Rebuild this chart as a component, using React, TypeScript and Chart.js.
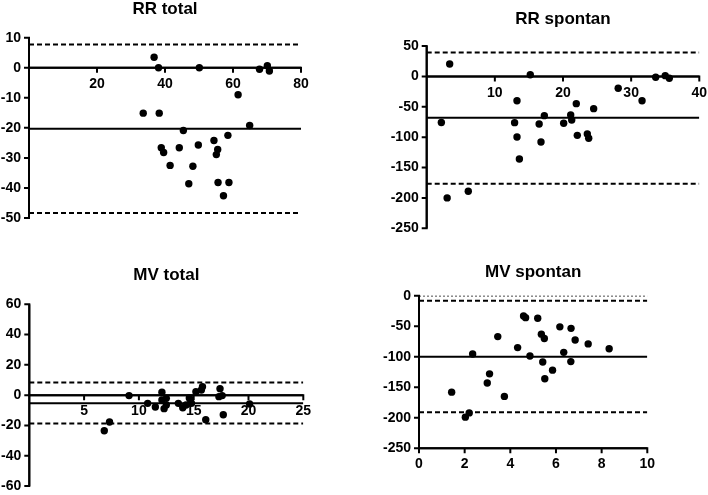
import { useEffect, useRef } from "react";
import { Chart, registerables } from "chart.js";

Chart.register(...registerables);

const FONT = '"Liberation Sans", Arial, sans-serif';

// RR total
const rrTotalX = [36.8, 38.1, 50.1, 67.8, 70.1, 70.7, 61.5, 33.6, 38.3, 64.9, 45.4, 54.4, 58.5, 38.9, 39.6, 44.2, 49.8, 55.5, 55.1, 41.5, 48.2, 47.0, 55.6, 58.8, 57.2];
const rrTotalY = [3.5, 0, 0, -0.5, 0.7, -1.1, -9.0, -15.1, -15.1, -19.2, -20.9, -24.2, -22.5, -26.6, -28.2, -26.6, -25.7, -27.2, -28.9, -32.5, -32.8, -38.6, -38.2, -38.2, -42.6];
const rrTotalBias = -20.3;
const rrTotalLimits = [7.7, -48.3];
const rrTotalXTicks = [20, 40, 60, 80];
const rrTotalYTicks = [10, 0, -10, -20, -30, -40, -50];

// RR spontan
const rrSpontanX = [3.37, 2.15, 3.0, 6.1, 15.2, 13.25, 12.9, 13.25, 13.6, 16.77, 16.5, 17.26, 20.1, 21.13, 21.28, 21.95, 22.1, 23.57, 23.77, 24.5, 28.1, 31.6, 33.6, 35.0, 35.6];
const rrSpontanY = [20.3, -76, -200, -189, 2.8, -40, -76.1, -99.7, -136, -108, -78.3, -64.6, -77.2, -63.5, -71.7, -44.9, -97, -94.8, -101.9, -53.1, -19.6, -40, -1.5, 1.2, -3.1];
const rrSpontanBias = -68;
const rrSpontanLimits = [39.5, -176.6];
const rrSpontanXTicks = [10, 20, 30, 40];
const rrSpontanYTicks = [50, 0, -50, -100, -150, -200, -250];

// MV total
const mvTotalX = [6.84, 7.32, 9.1, 10.8, 11.5, 12.1, 12.3, 12.5, 12.5, 13.6, 14.0, 14.3, 14.6, 14.8, 15.2, 15.7, 15.8, 16.1, 17.4, 17.3, 17.6, 17.7, 20.1, 12.1, 14.7];
const mvTotalY = [-23.5, -17.7, -0.3, -5.4, -7.8, 1.9, -8.9, -2.1, -6.5, -5.4, -8.3, -6.5, -1.9, -5.4, 2.3, 3.4, 5.6, -16.2, 4.3, -1, -0.3, -12.9, -5.8, -3.2, -3];
const mvTotalBias = -5.4;
const mvTotalLimits = [8.3, -18.8];
const mvTotalXTicks = [5, 10, 15, 20, 25];
const mvTotalYTicks = [60, 40, 20, 0, -20, -40, -60];

// MV spontan
const mvSpontanX = [1.43, 2.03, 2.2, 2.35, 2.99, 3.09, 3.45, 3.74, 4.32, 4.58, 4.67, 4.86, 5.2, 5.36, 5.49, 5.42, 5.51, 5.85, 6.17, 6.34, 6.66, 6.65, 6.84, 7.41, 8.33];
const mvSpontanY = [-158, -199, -192, -95.5, -143, -128, -67, -165, -85, -33.3, -36, -98.8, -37, -63, -70, -108.6, -136, -122, -51, -92.8, -53.5, -108, -72.6, -79, -86.8];
const mvSpontanBias = -100;
const mvSpontanLimits = [-8.2, -191];
const mvSpontanXTicks = [0, 2, 4, 6, 8, 10];
const mvSpontanYTicks = [0, -50, -100, -150, -200, -250];

type PanelProps = {
  title: string;
  xs: number[];
  ys: number[];
  bias: number;
  limits: number[];
  dotted?: number;
  xMin: number;
  xMax: number;
  yMin: number;
  yMax: number;
  xTicks: number[];
  yTicks: number[];
  xAtZero: boolean;
  left: number;
  top: number;
  width: number;
  height: number;
  yWidth: number;
  padRight: number;
  padBottom: number;
  titleTop: number;
  titleBottom: number;
  xHeight?: number;
  xLabelGap: number;
};

function segment(x1: number, y1: number, x2: number, y2: number, dash: number[], width: number, clip?: boolean) {
  return {
    data: [{ x: x1, y: y1 }, { x: x2, y: y2 }],
    showLine: true,
    fill: false,
    pointRadius: 0,
    borderColor: "#000",
    borderWidth: width,
    borderDash: dash,
    clip: clip === false ? false : undefined,
  };
}

function Panel(p: PanelProps) {
  const chartRef = useRef<HTMLCanvasElement>(null);

  useEffect(() => {
    if (!chartRef.current) return;

    const xAxisAt = p.xAtZero ? 0 : p.yMin;
    const datasets: any[] = [
      {
        data: p.xs.map((x, i) => ({ x, y: p.ys[i] })),
        pointRadius: 3.7,
        pointBackgroundColor: "#000",
        pointBorderWidth: 0,
      },
      segment(p.xMin, p.bias, p.xMax, p.bias, [], 2),
      ...p.limits.map((v) => segment(p.xMin, v, p.xMax, v, [5, 3], 2)),
      // axis lines
      segment(p.xMin, p.yMin, p.xMin, p.yMax, [], 2, false),
      segment(p.xMin, xAxisAt, p.xMax, xAxisAt, [], 2, false),
    ];
    if (p.dotted !== undefined) datasets.push(segment(p.xMin, p.dotted, p.xMax, p.dotted, [2, 2], 1.5));

    // axis lines and outward tick marks, Prism style
    const axesPlugin = {
      id: "prismAxes",
      afterDraw(chart: any) {
        const c = chart.ctx;
        const a = chart.chartArea;
        const sx = chart.scales.x;
        const sy = chart.scales.y;
        const axisY = sy.getPixelForValue(xAxisAt);
        const axisX = sx.getPixelForValue(p.xMin);
        c.save();
        c.strokeStyle = "#000";
        c.lineWidth = 2;
        c.setLineDash([]);
        c.beginPath();
        c.moveTo(axisX, sy.getPixelForValue(p.yMax) - 1);
        c.lineTo(axisX, sy.getPixelForValue(p.yMin) + 1);
        c.moveTo(axisX - 1, axisY);
        c.lineTo(a.right + 1, axisY);
        p.yTicks.forEach((v) => {
          const py = sy.getPixelForValue(v);
          c.moveTo(axisX - 5, py);
          c.lineTo(axisX, py);
        });
        p.xTicks.forEach((v) => {
          const px = sx.getPixelForValue(v);
          c.moveTo(px, axisY);
          c.lineTo(px, axisY + 5);
        });
        c.stroke();
        c.restore();
      },
    };

    const hiddenGrid = (len: number) => ({
      drawOnChartArea: false,
      drawTicks: true,
      tickLength: len,
      color: "rgba(0,0,0,0)",
    });

    const ch = new Chart(chartRef.current, {
      type: "scatter",
      data: { datasets },
      plugins: [axesPlugin],
      options: {
        animation: false,
        responsive: true,
        maintainAspectRatio: false,
        layout: { padding: { left: 0, top: 0, right: p.padRight, bottom: p.padBottom } },
        plugins: {
          legend: { display: false },
          tooltip: { enabled: false },
          title: {
            display: true,
            text: p.title,
            color: "#000",
            fullSize: false,
            font: { family: FONT, size: 17, weight: "bold", lineHeight: 1 },
            padding: { top: p.titleTop, bottom: p.titleBottom },
          },
        },
        scales: {
          x: {
            type: "linear",
            position: p.xAtZero ? { y: 0 } : "bottom",
            min: p.xMin,
            max: p.xMax,
            grid: hiddenGrid(p.xLabelGap),
            border: { display: false },
            afterBuildTicks: (s: any) => {
              s.ticks = p.xTicks.map((v) => ({ value: v }));
            },
            afterFit: (s: any) => {
              if (p.xHeight !== undefined) s.height = p.xHeight;
            },
            ticks: { color: "#000", padding: 0, maxRotation: 0, font: { family: FONT, size: 14, weight: "bold" } },
          },
          y: {
            type: "linear",
            position: "left",
            min: p.yMin,
            max: p.yMax,
            grid: hiddenGrid(8),
            border: { display: false },
            afterBuildTicks: (s: any) => {
              s.ticks = p.yTicks.map((v) => ({ value: v }));
            },
            afterFit: (s: any) => {
              s.width = p.yWidth;
            },
            ticks: { color: "#000", padding: 0, font: { family: FONT, size: 14, weight: "bold" } },
          },
        } as any,
      },
    });

    return () => ch.destroy();
  }, []);

  return (
    <div style={{ position: "absolute", left: p.left, top: p.top, width: p.width, height: p.height }}>
      <canvas ref={chartRef}></canvas>
    </div>
  );
}

export default function App() {
  return (
    <div style={{ position: "absolute", left: 0, top: 0, width: 708, height: 495 }}>
      <Panel
        title="RR total"
        xs={rrTotalX}
        ys={rrTotalY}
        bias={rrTotalBias}
        limits={rrTotalLimits}
        xMin={0}
        xMax={80}
        yMin={-50}
        yMax={10}
        xTicks={rrTotalXTicks}
        yTicks={rrTotalYTicks}
        xAtZero={true}
        left={0}
        top={0}
        width={354}
        height={248}
        yWidth={29}
        padRight={53}
        padBottom={30}
        titleTop={0.7}
        titleBottom={20}
        xLabelGap={8}
      />
      <Panel
        title="RR spontan"
        xs={rrSpontanX}
        ys={rrSpontanY}
        bias={rrSpontanBias}
        limits={rrSpontanLimits}
        xMin={0}
        xMax={40}
        yMin={-250}
        yMax={50}
        xTicks={rrSpontanXTicks}
        yTicks={rrSpontanYTicks}
        xAtZero={true}
        left={354}
        top={0}
        width={354}
        height={248}
        yWidth={72.7}
        padRight={8.7}
        padBottom={19.7}
        titleTop={10.5}
        titleBottom={18.5}
        xLabelGap={8}
      />
      <Panel
        title="MV total"
        xs={mvTotalX}
        ys={mvTotalY}
        bias={mvTotalBias}
        limits={mvTotalLimits}
        xMin={0}
        xMax={25}
        yMin={-60}
        yMax={60}
        xTicks={mvTotalXTicks}
        yTicks={mvTotalYTicks}
        xAtZero={true}
        left={0}
        top={248}
        width={354}
        height={247}
        yWidth={29.3}
        padRight={50.7}
        padBottom={9}
        titleTop={18.5}
        titleBottom={20.8}
        xLabelGap={8}
      />
      <Panel
        title="MV spontan"
        xs={mvSpontanX}
        ys={mvSpontanY}
        bias={mvSpontanBias}
        limits={mvSpontanLimits}
        dotted={0}
        xMin={0}
        xMax={10}
        yMin={-250}
        yMax={0}
        xTicks={mvSpontanXTicks}
        yTicks={mvSpontanYTicks}
        xAtZero={false}
        left={354}
        top={248}
        width={354}
        height={247}
        yWidth={65}
        padRight={60.7}
        padBottom={26.7}
        titleTop={15.5}
        titleBottom={15.2}
        xHeight={20}
        xLabelGap={7}
      />
    </div>
  );
}
